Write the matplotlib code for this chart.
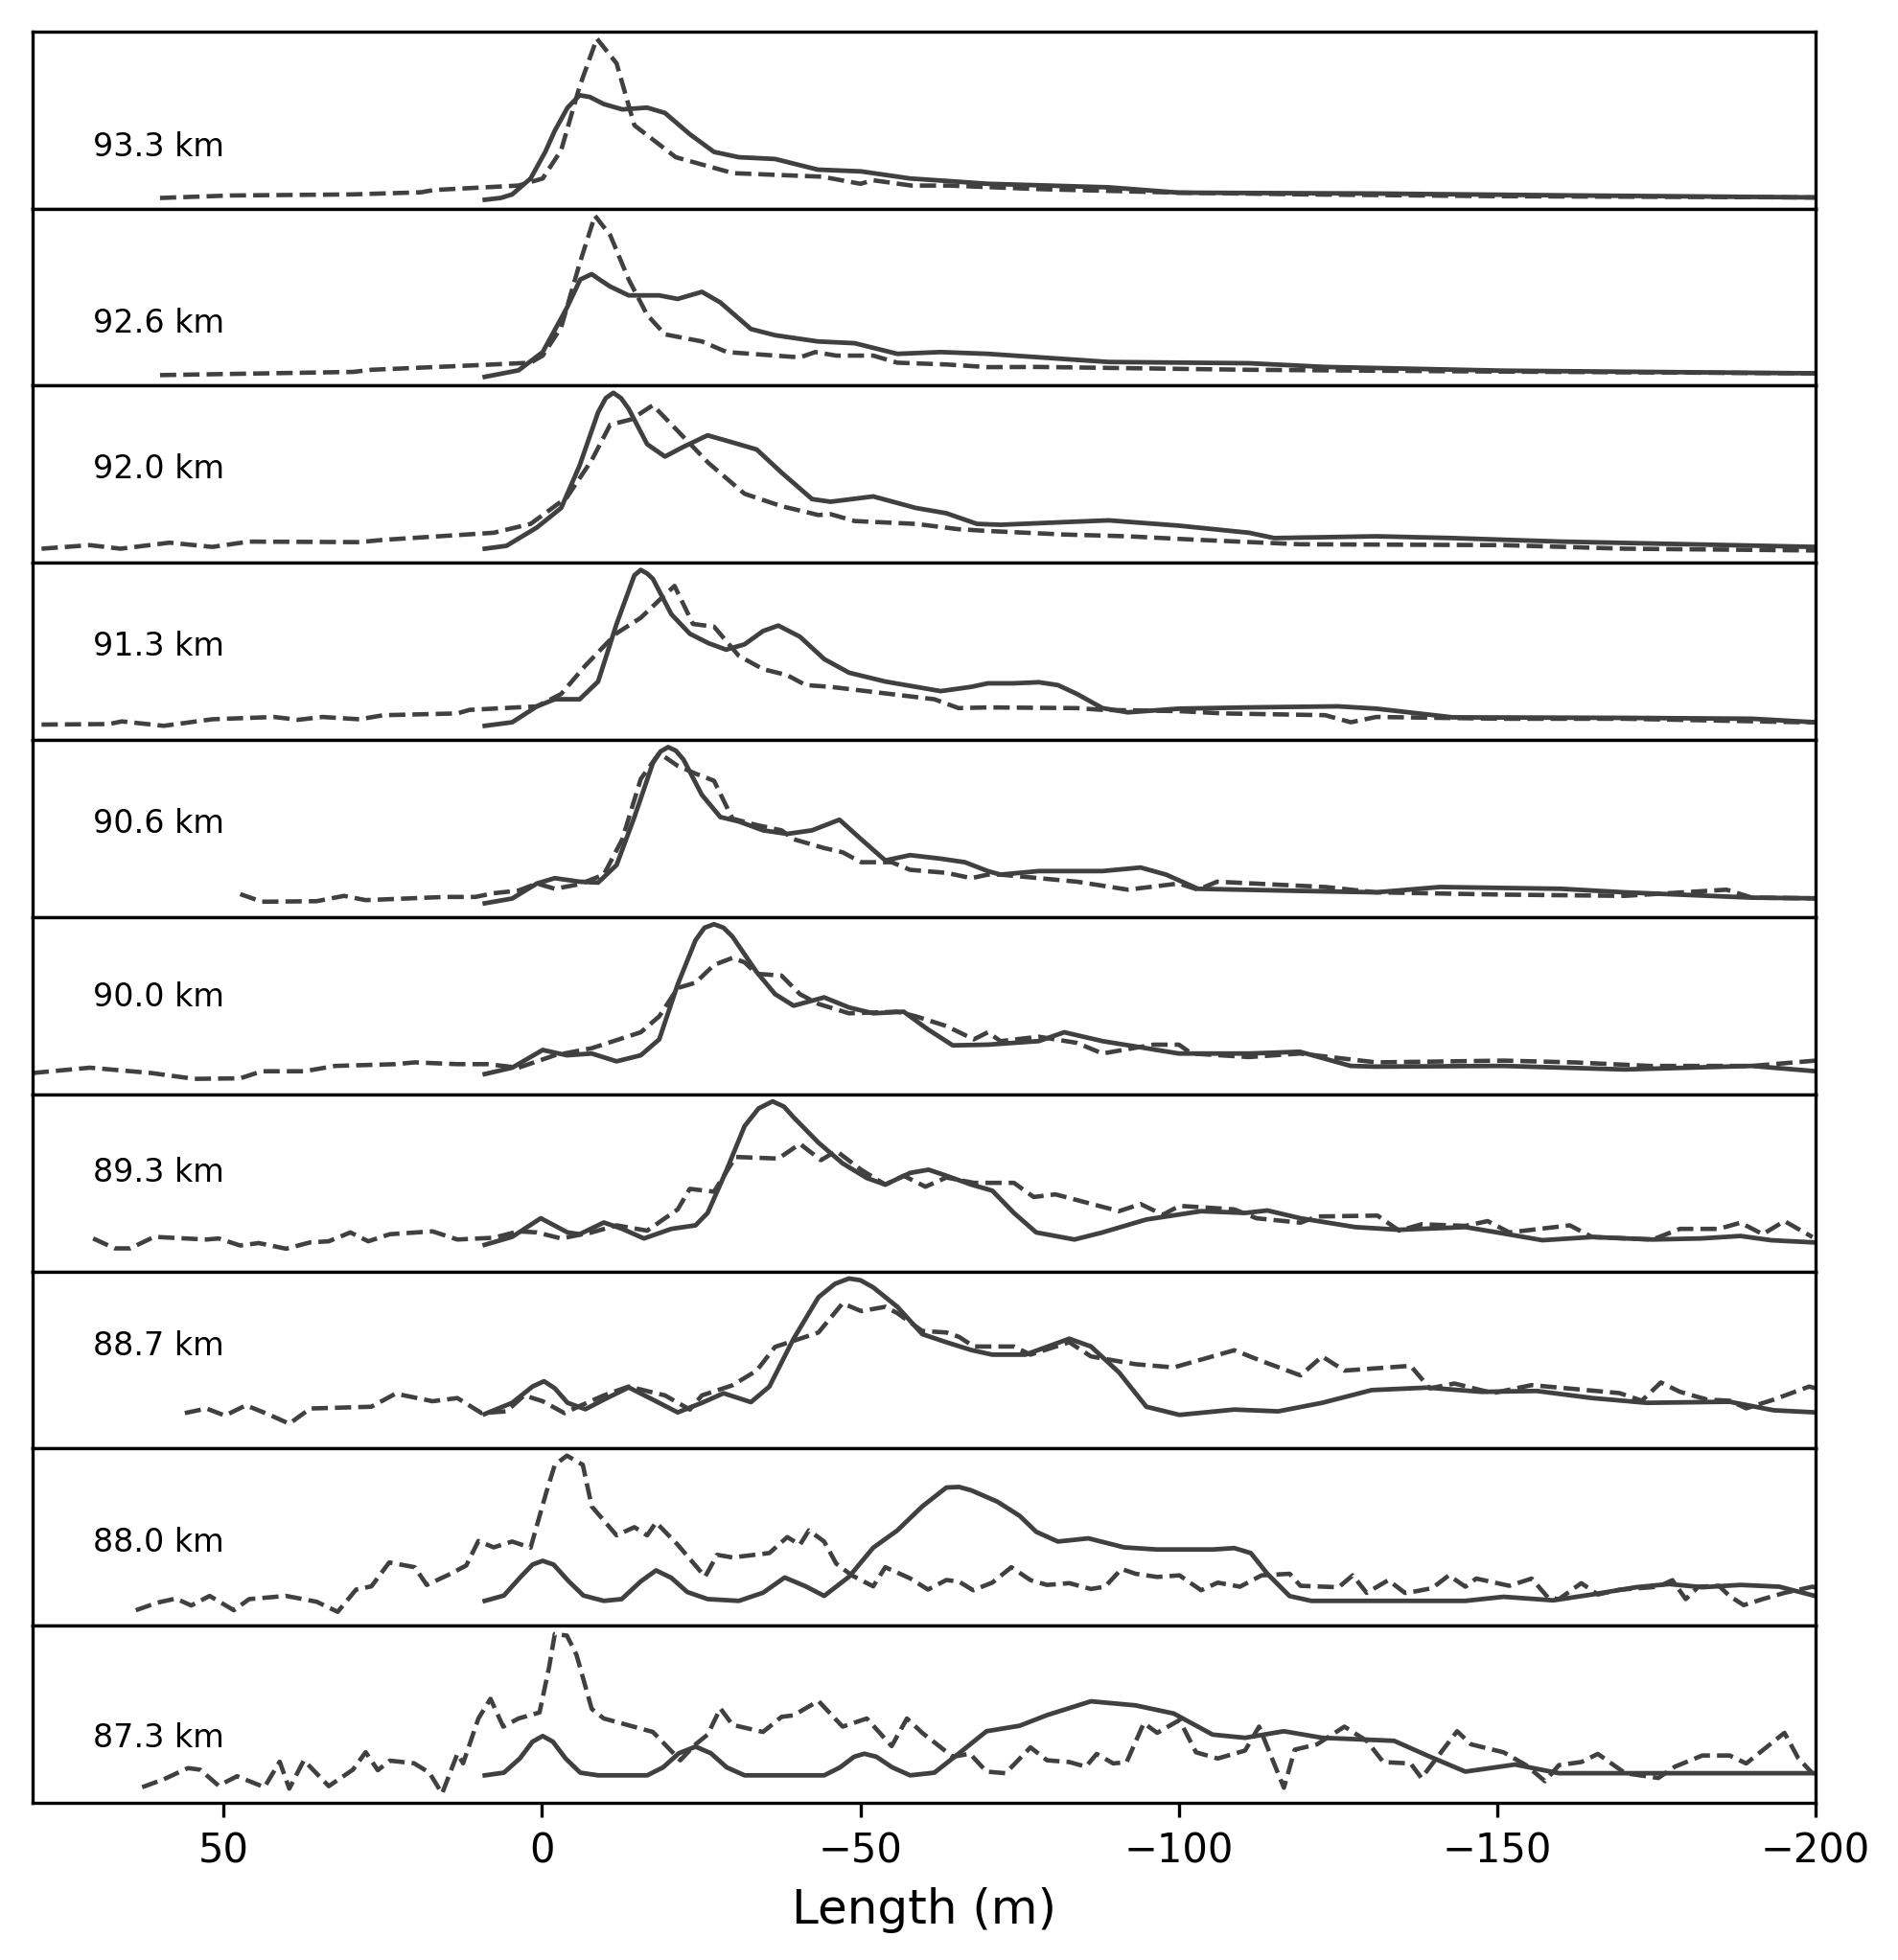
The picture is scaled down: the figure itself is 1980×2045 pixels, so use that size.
import matplotlib
matplotlib.use("Agg")
import matplotlib.pyplot as plt

heights = ["93.3 km", "92.6 km", "92.0 km", "91.3 km", "90.6 km",
           "90.0 km", "89.3 km", "88.7 km", "88.0 km", "87.3 km"]
xticks = [50, 0, -50, -100, -150, -200]

# (length [m], normalised amplitude) pairs
solid_933 = [(9,0.05),(6.5,0.06),(4.7,0.08),(1.8,0.17),(-0.5,0.32),(-2,0.44),(-4,0.57),(-5.9,0.64),(-7.5,0.63),(-9.7,0.59),(-12.6,0.56),(-16.5,0.57),(-19.3,0.54),(-23.2,0.42),(-27,0.32),(-30.9,0.29),(-36.6,0.28),(-43.3,0.22),(-50.1,0.21),(-57.8,0.17),(-64,0.155),(-70,0.14),(-89,0.12),(-100,0.09),(-131,0.085),(-160,0.075),(-200,0.063)]
dash_933 = [(60,0.06),(49,0.074),(30,0.08),(19,0.092),(17,0.105),(3.7,0.13),(-0.1,0.17),(-3,0.33),(-5.9,0.69),(-8.6,0.96),(-11.7,0.82),(-14.5,0.47),(-21,0.29),(-30,0.2),(-44,0.18),(-50,0.14),(-52,0.16),(-58,0.13),(-64,0.13),(-78,0.11),(-89,0.1),(-100,0.09),(-120,0.08),(-150,0.07),(-200,0.063)]

solid_926 = [(9,0.05),(3.7,0.087),(-0.1,0.19),(-3.9,0.44),(-6,0.6),(-7.8,0.63),(-9,0.6),(-10.7,0.56),(-13.6,0.51),(-18.4,0.51),(-21.3,0.49),(-25.1,0.53),(-28,0.47),(-32.8,0.32),(-36.6,0.285),(-43.3,0.25),(-49.1,0.24),(-55.8,0.18),(-62.6,0.19),(-70,0.18),(-89,0.134),(-111,0.127),(-123,0.106),(-151,0.085),(-200,0.07)]
dash_926 = [(60,0.06),(29.7,0.078),(26.8,0.09),(9.5,0.117),(1.8,0.13),(-0.1,0.17),(-3,0.33),(-5.9,0.69),(-8.3,0.96),(-10.7,0.85),(-13.6,0.6),(-16.5,0.4),(-19.3,0.29),(-25.1,0.25),(-29,0.19),(-40.5,0.16),(-42.9,0.19),(-46.2,0.17),(-52,0.17),(-55.8,0.13),(-63.5,0.12),(-70,0.105),(-78,0.106),(-111,0.09),(-150,0.08),(-200,0.07)]

solid_920 = [(9,0.08),(5.6,0.096),(0.8,0.2),(-3,0.31),(-5.9,0.55),(-8.8,0.85),(-10,0.93),(-11.2,0.96),(-12.4,0.93),(-13.6,0.87),(-16.5,0.67),(-19.3,0.6),(-22.2,0.655),(-26,0.72),(-29.9,0.68),(-33.7,0.64),(-37.6,0.51),(-42.4,0.36),(-45.3,0.345),(-52,0.375),(-58.7,0.31),(-63.5,0.28),(-68.3,0.22),(-72,0.215),(-82,0.23),(-89,0.24),(-100,0.21),(-111,0.17),(-115,0.14),(-131,0.15),(-143,0.14),(-160,0.12),(-200,0.09)]
dash_920 = [(78.6,0.08),(71,0.1),(66.2,0.08),(58.5,0.114),(51.8,0.09),(46,0.12),(28.7,0.117),(24.9,0.13),(7.6,0.17),(1.8,0.22),(-3.9,0.37),(-7.8,0.58),(-10.7,0.78),(-14,0.81),(-17.4,0.89),(-21.3,0.745),(-26.1,0.565),(-31.8,0.39),(-37.6,0.32),(-43.4,0.27),(-45.3,0.275),(-49.1,0.236),(-58.7,0.22),(-65.4,0.19),(-70,0.18),(-82,0.16),(-92,0.15),(-103,0.13),(-119,0.105),(-151,0.1),(-170,0.08),(-200,0.07)]

solid_913 = [(9,0.08),(4.7,0.1),(0.8,0.19),(-2,0.23),(-5.9,0.23),(-8.8,0.33),(-11.7,0.655),(-14.5,0.93),(-15.5,0.96),(-16.5,0.94),(-17.4,0.91),(-20.3,0.71),(-23.2,0.6),(-26.1,0.547),(-28.9,0.51),(-31.8,0.54),(-34.7,0.615),(-37.1,0.646),(-40.5,0.583),(-44.3,0.457),(-48.2,0.38),(-53.9,0.33),(-62.6,0.276),(-67.4,0.3),(-70,0.32),(-74,0.32),(-78,0.326),(-81,0.31),(-84,0.26),(-88,0.18),(-92,0.156),(-100,0.177),(-111,0.184),(-125,0.19),(-131,0.177),(-143,0.128),(-170,0.125),(-190,0.12),(-200,0.1)]
dash_913 = [(78.6,0.087),(68,0.09),(66,0.105),(59.4,0.08),(51.8,0.117),(42.1,0.13),(38.3,0.114),(34.5,0.13),(28.7,0.117),(24.9,0.14),(13.3,0.15),(11.4,0.17),(0.8,0.19),(-3,0.26),(-6.8,0.42),(-11.6,0.6),(-15.5,0.69),(-19.3,0.82),(-20.8,0.87),(-23.7,0.655),(-27,0.64),(-30.9,0.475),(-34.7,0.4),(-38.5,0.366),(-41.4,0.31),(-45.3,0.3),(-61.6,0.23),(-65.4,0.18),(-70,0.184),(-84,0.18),(-88,0.17),(-100,0.163),(-107,0.15),(-123,0.14),(-127,0.1),(-131,0.13),(-151,0.12),(-170,0.12),(-198,0.1),(-200,0.1)]

solid_906 = [(9,0.078),(4.7,0.105),(0.8,0.19),(-2,0.22),(-5.9,0.2),(-8.8,0.195),(-11.7,0.294),(-14.5,0.565),(-17.4,0.87),(-18.6,0.935),(-19.8,0.96),(-21,0.94),(-22.2,0.89),(-25.1,0.69),(-28,0.565),(-30.9,0.54),(-34.7,0.49),(-38.5,0.47),(-42.4,0.49),(-46.7,0.55),(-50.1,0.44),(-53.9,0.32),(-57.8,0.35),(-62.6,0.33),(-66.4,0.31),(-70,0.26),(-72,0.24),(-78,0.26),(-88,0.26),(-94,0.28),(-98,0.24),(-103,0.16),(-119,0.148),(-131,0.14),(-141,0.17),(-160,0.16),(-170,0.14),(-190,0.11),(-200,0.106)]
dash_906 = [(47.4,0.13),(44,0.087),(35.4,0.09),(31.1,0.12),(27.7,0.096),(15.2,0.114),(10.5,0.114),(7.6,0.135),(3.7,0.15),(0.8,0.19),(-2,0.16),(-5.9,0.186),(-9.7,0.24),(-12.6,0.44),(-15.5,0.78),(-18.4,0.926),(-21.3,0.854),(-24.1,0.81),(-27,0.77),(-29.9,0.556),(-33.7,0.52),(-37.6,0.49),(-39.5,0.44),(-44.3,0.39),(-47.2,0.366),(-50.1,0.31),(-54.9,0.31),(-57.8,0.267),(-63.5,0.25),(-67.4,0.22),(-70,0.24),(-72,0.24),(-78,0.22),(-84,0.2),(-92,0.155),(-100,0.19),(-103,0.155),(-106,0.2),(-123,0.17),(-131,0.14),(-151,0.127),(-170,0.12),(-186,0.155),(-190,0.11),(-200,0.106)]

solid_900 = [(9,0.114),(4.7,0.15),(-0.1,0.25),(-3.9,0.22),(-7.8,0.23),(-11.7,0.186),(-15.5,0.22),(-18.4,0.31),(-21.3,0.62),(-24.1,0.87),(-25.5,0.94),(-27,0.96),(-28.5,0.94),(-29.9,0.89),(-33.7,0.69),(-36.6,0.565),(-39.5,0.5),(-44.3,0.547),(-48.2,0.49),(-52,0.457),(-56.8,0.466),(-60.6,0.366),(-64.5,0.276),(-70,0.28),(-78,0.3),(-82,0.35),(-88,0.3),(-100,0.23),(-111,0.23),(-119,0.24),(-127,0.16),(-131,0.156),(-151,0.16),(-170,0.14),(-190,0.16),(-200,0.13)]
dash_900 = [(80,0.12),(71,0.15),(61.4,0.12),(54.6,0.087),(47.4,0.09),(44,0.13),(37.3,0.13),(32.5,0.16),(23,0.17),(20,0.18),(13.3,0.17),(8.6,0.17),(3.7,0.15),(-2,0.22),(-7.8,0.26),(-15.5,0.35),(-18.4,0.44),(-21.3,0.6),(-24.1,0.63),(-27,0.73),(-29.9,0.77),(-31.8,0.745),(-33.7,0.68),(-37.6,0.67),(-40.5,0.565),(-43.4,0.51),(-48.2,0.457),(-55.8,0.466),(-58.7,0.44),(-63.5,0.385),(-67.8,0.31),(-70,0.35),(-72,0.3),(-78,0.325),(-84,0.29),(-88,0.23),(-96,0.28),(-100,0.28),(-102,0.23),(-111,0.21),(-119,0.23),(-131,0.18),(-151,0.19),(-162,0.18),(-174,0.16),(-190,0.16),(-200,0.19)]

solid_893 = [(9,0.15),(4.7,0.195),(0.2,0.3),(-4,0.22),(-5.9,0.21),(-9.7,0.276),(-12.6,0.24),(-16,0.186),(-20.3,0.24),(-24.1,0.26),(-26,0.33),(-28.9,0.565),(-31.8,0.82),(-34,0.92),(-36.2,0.96),(-38,0.93),(-39.5,0.87),(-43.4,0.727),(-47.2,0.61),(-51,0.527),(-53.9,0.49),(-57.8,0.556),(-60.7,0.574),(-63.5,0.54),(-67.4,0.49),(-70.7,0.456),(-74.1,0.33),(-77.6,0.22),(-83.6,0.18),(-88,0.22),(-94.9,0.293),(-103.5,0.34),(-110.4,0.33),(-113.9,0.344),(-119.1,0.3),(-127.7,0.25),(-134.6,0.235),(-145,0.25),(-150,0.22),(-157.1,0.176),(-164.9,0.194),(-174.4,0.18),(-182,0.186),(-188.2,0.2),(-193,0.176),(-200,0.163)]
dash_893 = [(70.5,0.186),(67.1,0.13),(64.7,0.13),(60.9,0.195),(52.7,0.18),(50.8,0.186),(47.4,0.146),(44.5,0.16),(40.2,0.128),(36.4,0.164),(33.5,0.17),(30.1,0.22),(27.3,0.17),(23.9,0.21),(17.2,0.226),(13.3,0.18),(7.6,0.19),(3.7,0.226),(0.8,0.22),(-3,0.186),(-7.8,0.22),(-11.7,0.26),(-16.5,0.23),(-21.3,0.35),(-23.2,0.466),(-27,0.45),(-30.4,0.646),(-37.1,0.637),(-40.5,0.72),(-43.8,0.628),(-46.2,0.68),(-50.1,0.574),(-53.9,0.49),(-56.8,0.54),(-60.2,0.478),(-63.5,0.53),(-67.8,0.5),(-74.1,0.5),(-77.2,0.42),(-80.6,0.435),(-90.6,0.34),(-94,0.38),(-97.5,0.32),(-100.1,0.37),(-108.7,0.35),(-112.2,0.3),(-119.1,0.275),(-121.7,0.31),(-131.2,0.315),(-134.6,0.23),(-138.1,0.266),(-145,0.257),(-148.5,0.284),(-151.9,0.22),(-161.4,0.26),(-164.9,0.194),(-174.4,0.18),(-178.7,0.24),(-184.8,0.24),(-188.2,0.275),(-191.7,0.21),(-195.1,0.284),(-199.5,0.194)]

solid_887 = [(9,0.195),(4.7,0.258),(1.5,0.35),(-0.3,0.38),(-2,0.34),(-4,0.258),(-6.8,0.222),(-9.7,0.276),(-13.6,0.345),(-17.4,0.276),(-21.3,0.204),(-25.1,0.258),(-28.5,0.312),(-32.8,0.262),(-35.7,0.35),(-39.5,0.62),(-43.4,0.854),(-46,0.93),(-48.2,0.96),(-50,0.95),(-52,0.91),(-55.8,0.8),(-59.7,0.646),(-63.5,0.6),(-67.4,0.556),(-70.7,0.53),(-75.9,0.53),(-82.8,0.62),(-86.2,0.576),(-90.6,0.43),(-94.9,0.236),(-100.1,0.19),(-108.7,0.22),(-115.6,0.21),(-122.5,0.258),(-130.3,0.33),(-139,0.344),(-147.6,0.32),(-156.2,0.325),(-164.9,0.285),(-173.5,0.258),(-186.5,0.264),(-193.4,0.216),(-200,0.204)]
dash_887 = [(56.1,0.2),(52.7,0.226),(49.8,0.186),(46.5,0.244),(43.1,0.195),(39.7,0.14),(36.4,0.226),(26.8,0.236),(23,0.31),(17.2,0.267),(13.3,0.285),(9.5,0.2),(5.6,0.21),(2.8,0.3),(-0.1,0.267),(-3.5,0.2),(-5.9,0.24),(-9.7,0.3),(-13.6,0.35),(-19.3,0.3),(-23.2,0.22),(-25.1,0.3),(-29.9,0.357),(-33.7,0.44),(-36.6,0.574),(-40.5,0.62),(-43.4,0.655),(-47.2,0.82),(-50.1,0.776),(-53.9,0.8),(-55.8,0.764),(-59.7,0.664),(-63.5,0.655),(-65.5,0.63),(-67.8,0.576),(-74.1,0.576),(-76.7,0.53),(-82.8,0.6),(-86.2,0.52),(-93.2,0.476),(-99.2,0.458),(-108.7,0.555),(-113,0.494),(-119.1,0.413),(-122.5,0.52),(-126,0.44),(-136.4,0.467),(-139.4,0.34),(-143.3,0.367),(-149.3,0.313),(-155.4,0.358),(-169.2,0.313),(-172.7,0.27),(-175.7,0.373),(-178.7,0.32),(-183,0.276),(-186.5,0.27),(-189.1,0.227),(-193.4,0.276),(-199,0.35),(-200,0.34)]

solid_880 = [(9,0.14),(6,0.17),(3.5,0.27),(1.5,0.345),(-0.1,0.366),(-1.8,0.345),(-4.2,0.25),(-6.5,0.17),(-9.7,0.14),(-12.5,0.15),(-15.5,0.25),(-17.9,0.312),(-20.3,0.27),(-22.8,0.19),(-26,0.15),(-30.9,0.14),(-34.7,0.186),(-38.1,0.272),(-41.4,0.222),(-44.3,0.168),(-48.2,0.276),(-52,0.44),(-55.8,0.538),(-59.7,0.673),(-63.5,0.78),(-65.5,0.783),(-67.4,0.764),(-71.5,0.7),(-75,0.62),(-77.6,0.53),(-81,0.475),(-85.8,0.493),(-91.4,0.442),(-96.6,0.43),(-105.3,0.43),(-108.7,0.438),(-111.3,0.41),(-113.9,0.293),(-117.4,0.167),(-120.8,0.14),(-134.6,0.14),(-145,0.14),(-151,0.163),(-158.8,0.143),(-164.9,0.176),(-171.8,0.217),(-177,0.235),(-182.2,0.217),(-188.2,0.23),(-194.3,0.22),(-200,0.167)]
dash_880 = [(63.8,0.087),(60.4,0.13),(57.5,0.153),(55.1,0.114),(52.2,0.168),(48.4,0.087),(46,0.15),(40.2,0.168),(35.4,0.135),(32.1,0.078),(29.2,0.204),(26.8,0.222),(24,0.357),(20,0.33),(18.1,0.23),(14.3,0.294),(11.9,0.34),(10,0.478),(7.6,0.442),(4.7,0.475),(1.8,0.44),(-0.6,0.745),(-2,0.908),(-3.9,0.96),(-6.4,0.908),(-7.8,0.673),(-11.7,0.51),(-14.5,0.556),(-16.5,0.51),(-17.9,0.583),(-21.3,0.457),(-25.6,0.276),(-27.5,0.4),(-29.9,0.385),(-35.7,0.41),(-38.5,0.5),(-40.5,0.457),(-41.9,0.538),(-44.3,0.475),(-46.2,0.35),(-48.6,0.285),(-52,0.222),(-53.9,0.33),(-57.8,0.267),(-60.6,0.204),(-63.5,0.258),(-65.5,0.248),(-67.7,0.2),(-70.7,0.243),(-73.7,0.33),(-76.7,0.257),(-79.3,0.23),(-82.8,0.24),(-86.2,0.207),(-88.4,0.22),(-91,0.32),(-93.2,0.293),(-96.6,0.275),(-100.1,0.284),(-103.5,0.2),(-106.1,0.243),(-109.6,0.22),(-113,0.284),(-117.4,0.293),(-119.1,0.225),(-125.1,0.217),(-127.3,0.284),(-129.5,0.185),(-132.9,0.257),(-135.5,0.185),(-137.2,0.194),(-139.8,0.212),(-142.4,0.284),(-145,0.22),(-146.7,0.266),(-151.9,0.225),(-155.4,0.266),(-158,0.158),(-159.7,0.15),(-163.2,0.24),(-165.8,0.176),(-169.2,0.203),(-175.3,0.22),(-177.5,0.257),(-179.6,0.15),(-181.6,0.22),(-184.8,0.225),(-186.5,0.167),(-188.7,0.116),(-191.7,0.15),(-195.1,0.185),(-199.5,0.22),(-200,0.215)]

solid_873 = [(9,0.155),(6,0.17),(3.5,0.25),(1.5,0.345),(-0.1,0.377),(-1.7,0.345),(-3.7,0.25),(-6,0.17),(-8.8,0.155),(-16.5,0.155),(-19,0.2),(-21.5,0.28),(-24.1,0.317),(-26.5,0.28),(-29,0.2),(-31.8,0.155),(-44.3,0.155),(-46.8,0.2),(-49,0.26),(-50.6,0.277),(-52.5,0.26),(-55,0.2),(-57.8,0.155),(-61.6,0.17),(-65.4,0.277),(-69.8,0.404),(-75,0.435),(-79.3,0.495),(-86.2,0.573),(-93.2,0.55),(-99.2,0.504),(-105.3,0.385),(-110.4,0.367),(-116.5,0.404),(-122.5,0.367),(-133.8,0.35),(-139,0.267),(-145,0.176),(-152.8,0.216),(-159.7,0.167),(-200,0.167)]
dash_873 = [(62.8,0.088),(59.4,0.133),(55.6,0.196),(53.7,0.187),(50.8,0.097),(47.9,0.15),(43.6,0.088),(41.2,0.232),(39.7,0.08),(37.4,0.24),(33.5,0.094),(29.7,0.187),(27.7,0.286),(25.8,0.184),(23.9,0.238),(20.1,0.223),(17.7,0.17),(15.7,0.052),(13.3,0.277),(12.4,0.223),(10,0.476),(8.1,0.587),(6.1,0.43),(3.7,0.476),(0.4,0.51),(-1.1,0.764),(-2,0.953),(-3.9,0.944),(-5.4,0.836),(-7.8,0.53),(-9.7,0.476),(-17.4,0.4),(-21.7,0.24),(-24.1,0.33),(-26,0.385),(-28,0.533),(-29.9,0.44),(-34.7,0.4),(-37.6,0.485),(-39.5,0.494),(-43.4,0.575),(-47.2,0.43),(-51,0.476),(-54.9,0.32),(-57.3,0.476),(-59.7,0.395),(-64.5,0.26),(-67.2,0.277),(-69.8,0.176),(-72.8,0.167),(-76.7,0.313),(-79.3,0.24),(-82.8,0.23),(-85.4,0.204),(-87.1,0.276),(-89.7,0.222),(-91.8,0.23),(-94.5,0.45),(-96.6,0.395),(-100.1,0.467),(-102.7,0.285),(-106.1,0.25),(-110.4,0.295),(-112.6,0.43),(-116.5,0.085),(-118.2,0.3),(-121.7,0.33),(-126,0.43),(-129.5,0.35),(-132.1,0.23),(-136.4,0.222),(-138.1,0.14),(-143.7,0.404),(-145.9,0.33),(-151,0.285),(-154.5,0.213),(-157.5,0.122),(-159.7,0.213),(-163.2,0.23),(-165.8,0.276),(-170.1,0.167),(-175.3,0.14),(-177.9,0.204),(-182.2,0.267),(-186.5,0.267),(-189.1,0.222),(-195.1,0.395),(-197.3,0.25),(-199.5,0.167)]

solid_curves = [solid_933, solid_926, solid_920, solid_913, solid_906,
                solid_900, solid_893, solid_887, solid_880, solid_873]
dash_curves = [dash_933, dash_926, dash_920, dash_913, dash_906,
               dash_900, dash_893, dash_887, dash_880, dash_873]

# layout: vertical position (axes fraction) of each panel label
label_pos = [0.35, 0.35, 0.53, 0.53, 0.53, 0.546, 0.556, 0.577, 0.47, 0.366]

line_color = "#404040"

fig, axes = plt.subplots(len(heights), 1, sharex=True, figsize=(6.6, 6.817), dpi=300)
fig.subplots_adjust(left=0.0172, right=0.9566, top=0.9839, bottom=0.0802, hspace=0)

for i, ax in enumerate(axes):
    sx, sy = zip(*solid_curves[i])
    dx, dy = zip(*dash_curves[i])
    ax.plot(sx, sy, color=line_color, lw=1.15, ls="-", solid_joinstyle="round")
    ax.plot(dx, dy, color=line_color, lw=1.1, ls="--")
    ax.set_ylim(0, 1)
    ax.set_yticks([])
    ax.text(0.034, label_pos[i], heights[i], transform=ax.transAxes,
            fontsize=8, va="center", ha="left")
    if i < len(heights) - 1:
        ax.tick_params(axis="x", bottom=False, labelbottom=False)

axes[-1].set_xlim(80, -200)
axes[-1].set_xticks(xticks)
axes[-1].tick_params(axis="x", labelsize=10)
axes[-1].set_xlabel("Length (m)", fontsize=12)

fig.savefig("out.png", dpi=300)
